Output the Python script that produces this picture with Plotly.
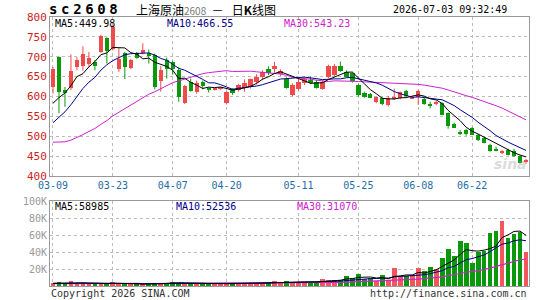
import plotly.graph_objects as go
import pandas as pd

# ---------------- data ----------------
dates = [
    "2026-03-09", "2026-03-10", "2026-03-11", "2026-03-12", "2026-03-13",
    "2026-03-16", "2026-03-17", "2026-03-18", "2026-03-19", "2026-03-20",
    "2026-03-23", "2026-03-24", "2026-03-25", "2026-03-26", "2026-03-27",
    "2026-03-30", "2026-03-31", "2026-04-01", "2026-04-02", "2026-04-03",
    "2026-04-07", "2026-04-08", "2026-04-09", "2026-04-10",
    "2026-04-13", "2026-04-14", "2026-04-15", "2026-04-16", "2026-04-17",
    "2026-04-20", "2026-04-21", "2026-04-22", "2026-04-23", "2026-04-24",
    "2026-04-27", "2026-04-28", "2026-04-29", "2026-04-30",
    "2026-05-06", "2026-05-07", "2026-05-08",
    "2026-05-11", "2026-05-12", "2026-05-13", "2026-05-14", "2026-05-15",
    "2026-05-18", "2026-05-19", "2026-05-20", "2026-05-21", "2026-05-22",
    "2026-05-25", "2026-05-26", "2026-05-27", "2026-05-28", "2026-05-29",
    "2026-06-01", "2026-06-02", "2026-06-03", "2026-06-04", "2026-06-05",
    "2026-06-08", "2026-06-09", "2026-06-10", "2026-06-11", "2026-06-12",
    "2026-06-15", "2026-06-16", "2026-06-17", "2026-06-18",
    "2026-06-22", "2026-06-23", "2026-06-24", "2026-06-25", "2026-06-26",
    "2026-06-29", "2026-06-30", "2026-07-01", "2026-07-02", "2026-07-03",
]

open_ = [624, 699, 616, 622, 674, 676, 681, 687, 712, 746,
         720, 668, 709, 672, 709, 710, 709, 704, 639, 692,
         687, 666, 584, 637, 611, 636, 619, 618, 619, 583,
         618, 617, 622, 623, 636, 648, 670, 668, 656, 643,
         603, 618, 633, 641, 637, 620, 650, 654, 676, 662,
         658, 630, 608, 606, 585, 596, 579, 594, 595, 614,
         596, 600, 594, 579, 581, 583, 558, 531, 510, 515,
         521, 504, 496, 479, 467, 458, 465, 462, 450, 434]
high = [674, 700, 624, 706, 699, 726, 712, 692, 755, 749,
        778, 722, 712, 695, 712, 734, 718, 708, 677, 698,
        689, 674, 629, 645, 640, 640, 623, 622, 624, 614,
        621, 632, 643, 645, 656, 666, 676, 687, 668, 648,
        633, 644, 648, 650, 642, 640, 680, 682, 688, 666,
        661, 632, 612, 609, 600, 598, 601, 620, 612, 617,
        601, 617, 596, 587, 589, 585, 560, 534, 516, 519,
        523, 506, 499, 481, 474, 466, 468, 468, 452, 443]
low = [607, 558, 574, 616, 666, 665, 674, 666, 710, 683,
       716, 662, 644, 669, 695, 706, 683, 618, 612, 645,
       655, 587, 581, 612, 607, 618, 610, 615, 616, 580,
       604, 612, 612, 620, 630, 641, 654, 660, 652, 620,
       601, 615, 629, 631, 620, 617, 646, 652, 662, 648,
       635, 600, 596, 596, 583, 578, 575, 591, 593, 598,
       594, 579, 579, 570, 578, 553, 519, 521, 503, 501,
       503, 488, 482, 461, 462, 455, 452, 448, 431, 431]
close = [670, 612, 611, 664, 693, 707, 698, 677, 751, 715,
         776, 695, 674, 691, 698, 716, 703, 623, 666, 670,
         668, 600, 626, 614, 635, 626, 617, 620, 622, 612,
         609, 629, 635, 643, 649, 662, 659, 677, 664, 622,
         630, 636, 645, 633, 622, 637, 676, 678, 665, 650,
         638, 604, 598, 597, 598, 580, 597, 597, 611, 601,
         599, 613, 581, 577, 587, 554, 526, 522, 507, 505,
         504, 490, 483, 462, 465, 462, 454, 450, 433, 441]
volume = [3000, 4500, 3500, 5500, 3000, 2500, 3000, 2000, 3000, 3500,
          4500, 3000, 2500, 2000, 1500, 2000, 3000, 4000, 3000, 3500,
          5000, 4000, 3500, 3000, 3500, 2500, 2000, 2000, 3000, 4000,
          2500, 3000, 3500, 3000, 3500, 4000, 5000, 6000, 4000, 5500,
          4500, 5000, 5000, 4000, 4500, 8000, 7000, 7500, 7000, 12000,
          10000, 14000, 8000, 9000, 6000, 13000, 7000, 21500, 12000, 11500,
          13000, 21500, 18000, 22000, 20500, 33000, 43000, 35000, 53000, 50500,
          26500, 40000, 41000, 62000, 65000, 77000, 56000, 61000, 64000, 40000]

# closes / volumes of the 29 sessions before the window (needed for moving averages)
prior_close = [610, 585, 540, 500, 480, 460, 450, 440, 430, 420,
               425, 430, 420, 415, 425, 430, 435, 440, 430, 445,
               470, 478, 485, 492, 500, 540, 555, 570, 580]
prior_volume = [2200, 2600, 2400, 2800, 2300, 2500, 2700, 2100, 2400, 2600,
                2900, 2300, 2500, 2200, 2700, 2400, 2600, 2800, 2500, 2300,
                2700, 2900, 2600, 3100, 2800, 3300, 3000, 3500, 3200]

tick_dates = ["2026-03-09", "2026-03-23", "2026-04-07", "2026-04-20",
              "2026-05-11", "2026-05-25", "2026-06-08", "2026-06-22"]
price_ticks = [400, 450, 500, 550, 600, 650, 700, 750, 800]
vol_ticks = [20000, 40000, 60000, 80000, 100000]
vol_tick_text = ["20K", "40K", "60K", "80K", "100K"]

symbol = "sc2608"
ma_price_labels = ["MA5:449.98", "MA10:466.55", "MA30:543.23"]
ma_vol_labels = ["MA5:58985", "MA10:52536", "MA30:31070"]

# ---------------- derived ----------------
n = len(dates)
xs = list(range(n))
np_ = len(prior_close)
cs = pd.Series(prior_close + close)
vs = pd.Series(prior_volume + volume)
ma_c = {k: cs.rolling(k).mean().iloc[np_:].tolist() for k in (5, 10, 30)}
ma_v = {k: vs.rolling(k).mean().iloc[np_:].tolist() for k in (5, 10, 30)}
tick_idx = [dates.index(d) for d in tick_dates]
tick_txt = [d[5:] for d in tick_dates]

RED = "#F04B4B"
GREEN = "#0A990A"
VRED = "#F2575E"
VGREEN = "#0A990A"
MA_COLORS = {5: "#000000", 10: "#000088", 30: "#CC22CC"}
MONO = "DejaVu Sans Mono"

W, H = 545, 300
def fx(x):
    return x / W
def fy(y):
    return 1 - y / H

fig = go.Figure()
up = [c >= o for o, c in zip(open_, close)]

for flag, col in ((True, RED), (False, GREEN)):
    wx, wy = [], []
    bx, bb, bh = [], [], []
    for i in range(n):
        if up[i] != flag:
            continue
        wx += [i, i, None]
        wy += [low[i], high[i], None]
        bx.append(i)
        bb.append(min(open_[i], close[i]))
        bh.append(max(abs(close[i] - open_[i]), 1.5))
    fig.add_trace(go.Scatter(x=wx, y=wy, mode="lines", line=dict(color=col, width=1),
                             xaxis="x", yaxis="y", hoverinfo="skip", showlegend=False))
    fig.add_trace(go.Bar(x=bx, y=bh, base=bb, width=0.72,
                         marker=dict(color=col, line=dict(width=0)),
                         xaxis="x", yaxis="y", showlegend=False))

for k in (30, 10, 5):
    fig.add_trace(go.Scatter(x=xs, y=ma_c[k], mode="lines",
                             line=dict(color=MA_COLORS[k], width=1),
                             xaxis="x", yaxis="y", showlegend=False))

# volume
fig.add_trace(go.Bar(x=xs, y=volume, width=0.8,
                     marker=dict(color=[VRED if u else VGREEN for u in up], line=dict(width=0)),
                     xaxis="x2", yaxis="y2", showlegend=False))
for k in (30, 10, 5):
    fig.add_trace(go.Scatter(x=xs, y=ma_v[k], mode="lines",
                             line=dict(color=MA_COLORS[k], width=1.2 if k == 30 else 1),
                             xaxis="x2", yaxis="y2", showlegend=False))

dom_x = [fx(50), fx(529)]
grid = dict(showgrid=True, gridcolor="#BBBBBB", griddash="dot", gridwidth=1,
            zeroline=False, showline=True, mirror=True, linecolor="#999999", linewidth=1,
            ticks="", automargin=False)

fig.update_layout(
    width=W, height=H, margin=dict(l=0, r=0, t=0, b=0, pad=0, autoexpand=False),
    paper_bgcolor="white", plot_bgcolor="white",
    barmode="overlay", bargap=0, showlegend=False,
    xaxis=dict(domain=dom_x, range=[-0.5, n - 0.5], anchor="y",
               tickmode="array", tickvals=tick_idx, ticktext=tick_txt,
               tickfont=dict(family=MONO, size=10, color="#1E6EA6"), **grid),
    yaxis=dict(domain=[fy(176), fy(17)], range=[400, 800], anchor="x",
               tickmode="array", tickvals=price_ticks,
               tickfont=dict(family=MONO, size=11, color="#CC2222"), **grid),
    xaxis2=dict(domain=dom_x, range=[-0.5, n - 0.5], anchor="y2",
                tickmode="array", tickvals=tick_idx, showticklabels=False, **grid),
    yaxis2=dict(domain=[fy(286), fy(201)], range=[0, 100000], anchor="x2",
                tickmode="array", tickvals=vol_ticks, ticktext=vol_tick_text,
                tickfont=dict(family=MONO, size=10, color="#999999"), **grid),
)

ann = []
def text(x, y, s, size=10, color="#000", xa="left", family=MONO):
    ann.append(dict(x=fx(x), y=fy(y), xref="paper", yref="paper", text=s,
                    showarrow=False, xanchor=xa, yanchor="middle",
                    font=dict(family=family, size=size, color=color)))

gap = '<span style="font-size:6px"> </span>'
text(47, 9, "<b>" + gap.join(symbol) + "</b>", size=14)
text(134, 9, '上海原油<span style="font-size:10px;color:#777777">2608</span>'
             '&nbsp;&nbsp;－&nbsp;&nbsp;&nbsp;日<b>K</b>线图',
     size=12, family="Noto Sans CJK SC")
text(509, 10, "2026-07-03 09:32:49", size=10, xa="right")
for s, x, k in zip(ma_price_labels, (53, 165, 282), (5, 10, 30)):
    text(x, 24, s, size=10, color=MA_COLORS[k])
for s, x, k in zip(ma_vol_labels, (53, 174, 295), (5, 10, 30)):
    text(x, 207, s, size=10, color=MA_COLORS[k])
text(49, 293, "Copyright 2026 SINA.COM", size=10, color="#333333")
text(529, 293, "http://finance.sina.com.cn", size=10, color="#333333", xa="right")
ann.append(dict(x=fx(510), y=fy(164), xref="paper", yref="paper", text="<i><b>sina</b></i>",
                showarrow=False, xanchor="center", yanchor="middle", opacity=0.35,
                font=dict(family="DejaVu Sans", size=14, color="#999999")))
fig.update_layout(annotations=ann)

fig.write_html("out.html")
